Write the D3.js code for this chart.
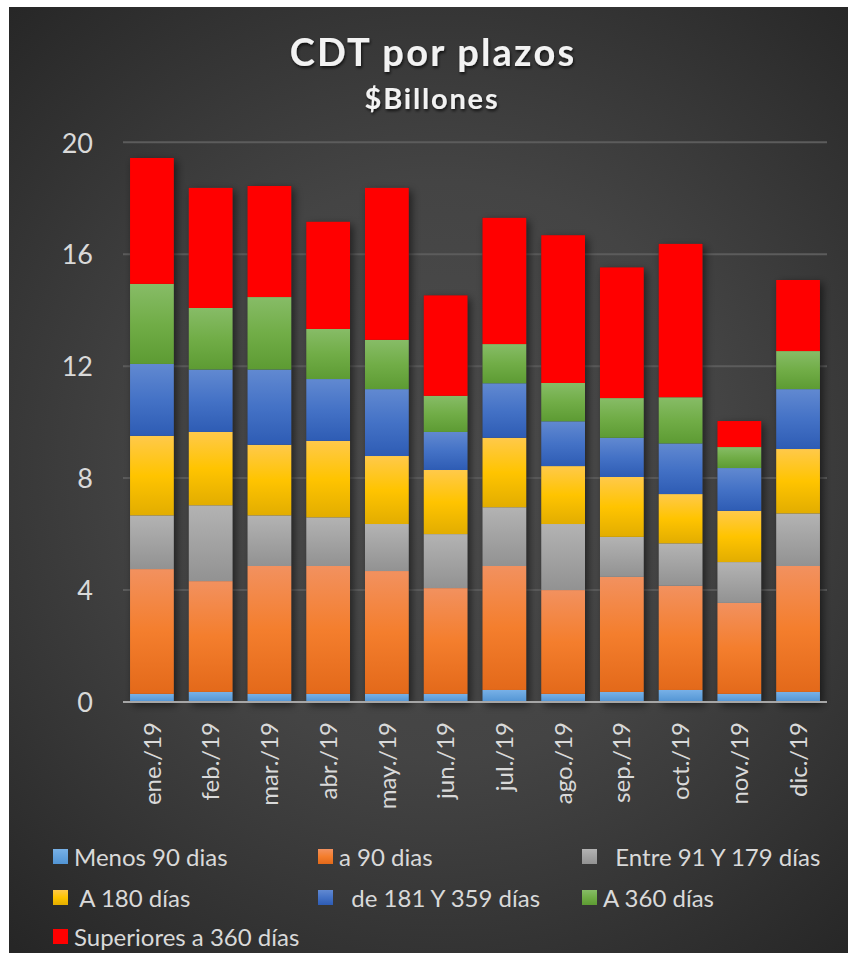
<!DOCTYPE html>
<html>
<head>
<meta charset="utf-8">
<script src="https://cdn.jsdelivr.net/npm/d3@7"></script>
<style>
  html, body { margin: 0; padding: 0; background: #ffffff; }
  svg { display: block; }
  text { white-space: pre; }
</style>
</head>
<body>
<div id="chart"></div>
<script>
// ---------- DATA ----------
const months = ["ene./19","feb./19","mar./19","abr./19","may./19","jun./19","jul./19","ago./19","sep./19","oct./19","nov./19","dic./19"];
const seriesNames = ["Menos 90 dias","a 90 dias","  Entre 91 Y 179 días"," A 180 días","  de 181 Y 359 días","A 360 días","Superiores a 360 días"];
const menos90    = [0.29,0.36,0.29,0.29,0.29,0.29,0.43,0.29,0.36,0.43,0.29,0.36];
const a90        = [4.46,3.96,4.57,4.57,4.39,3.78,4.43,3.71,4.11,3.72,3.25,4.50];
const entre91    = [1.92,2.71,1.81,1.74,1.68,1.93,2.10,2.36,1.43,1.52,1.46,1.88];
const a180       = [2.84,2.62,2.52,2.73,2.43,2.29,2.48,2.07,2.14,1.76,1.83,2.30];
const de181      = [2.57,2.23,2.69,2.21,2.39,1.36,1.95,1.60,1.40,1.81,1.53,2.14];
const a360       = [2.86,2.20,2.59,1.79,1.76,1.29,1.40,1.37,1.42,1.65,0.75,1.36];
const sup360     = [4.50,4.29,3.97,3.83,5.43,3.59,4.51,5.28,4.67,5.48,0.93,2.54];
const yTicks     = [0,4,8,12,16,20];

const seriesValues = [menos90, a90, entre91, a180, de181, a360, sup360];
const gradStops = [
  [["0%","#78b1e7"],["100%","#5194d4"]],
  [["0%","#f2915f"],["50%","#f47e2d"],["100%","#e3691a"]],
  [["0%","#b3b3b3"],["100%","#929292"]],
  [["0%","#ffc94a"],["50%","#ffc400"],["100%","#e2ad00"]],
  [["0%","#6189d1"],["50%","#4472c6"],["100%","#2e5cb4"]],
  [["0%","#87bc67"],["50%","#71ad47"],["100%","#5d9b33"]],
  [["0%","#ff0000"],["100%","#ff0000"]]
];

// ---------- LAYOUT ----------
const W = 848, H = 953;
const svg = d3.select("#chart").append("svg").attr("width", W).attr("height", H);
const defs = svg.append("defs");

const bg = defs.append("radialGradient").attr("id","bg")
  .attr("gradientUnits","userSpaceOnUse")
  .attr("cx", 440).attr("cy", 470).attr("r", 640);
bg.append("stop").attr("offset","0%").attr("stop-color","#4d4d4d");
bg.append("stop").attr("offset","45%").attr("stop-color","#444444");
bg.append("stop").attr("offset","100%").attr("stop-color","#262626");

gradStops.forEach((stops, i) => {
  const g = defs.append("linearGradient").attr("id","g"+i)
    .attr("x1",0).attr("y1",0).attr("x2",0).attr("y2",1);
  stops.forEach(s => g.append("stop").attr("offset", s[0]).attr("stop-color", s[1]));
});

const shadow = defs.append("filter").attr("id","shadow")
  .attr("x","-30%").attr("y","-10%").attr("width","160%").attr("height","120%");
shadow.append("feDropShadow").attr("dx",3).attr("dy",3).attr("stdDeviation",4)
  .attr("flood-color","#000").attr("flood-opacity",0.55);

const tshadow = defs.append("filter").attr("id","tshadow")
  .attr("x","-10%").attr("y","-30%").attr("width","120%").attr("height","160%");
tshadow.append("feDropShadow").attr("dx",1).attr("dy",2).attr("stdDeviation",1.5)
  .attr("flood-color","#000").attr("flood-opacity",0.7);

svg.append("rect").attr("x",9).attr("y",7).attr("width",W-9).attr("height",H-7)
  .attr("fill","url(#bg)");

// ---------- SCALES ----------
const x = d3.scaleBand().domain(months).range([123, 827]).paddingInner(0.255).paddingOuter(0.12);
const y = d3.scaleLinear().domain([0, 20]).range([702, 142.3]);

// gridlines
svg.append("g").selectAll("line").data(yTicks.filter(t => t > 0)).join("line")
  .attr("x1", 123).attr("x2", 827)
  .attr("y1", d => y(d)).attr("y2", d => y(d))
  .attr("stroke", "#5c5c5c").attr("stroke-width", 2);

// y axis labels
const yAxis = d3.axisLeft(y).tickValues(yTicks).tickSize(0).tickPadding(0).tickFormat(d3.format("d"));
const yg = svg.append("g").attr("transform","translate(93,0)").call(yAxis);
yg.select(".domain").remove();
yg.selectAll("text").attr("fill","#d9d9d9").attr("font-family","Lato, 'Open Sans', sans-serif")
  .attr("font-size", 27).attr("dy","0.36em");

// ---------- STACK ----------
const table = months.map((m, i) => {
  const o = { month: m };
  seriesNames.forEach((s, k) => { o["s"+k] = seriesValues[k][i]; });
  return o;
});
const keys = seriesNames.map((s, k) => "s"+k);
const stacked = d3.stack().keys(keys)(table);

const barsG = svg.append("g");
// shadow layer: one whole bar per month
barsG.append("g").attr("filter","url(#shadow)").selectAll("rect")
  .data(table).join("rect")
  .attr("x", d => x(d.month)).attr("width", x.bandwidth())
  .attr("y", d => y(d3.sum(keys, k => d[k])))
  .attr("height", d => y(0) - y(d3.sum(keys, k => d[k])))
  .attr("fill", "#333");

stacked.forEach((layer, k) => {
  barsG.append("g").selectAll("rect").data(layer).join("rect")
    .attr("x", d => x(d.data.month))
    .attr("width", x.bandwidth())
    .attr("y", d => y(d[1]))
    .attr("height", d => y(d[0]) - y(d[1]))
    .attr("fill", "url(#g"+k+")");
});

// baseline
svg.append("line").attr("x1",123).attr("x2",827).attr("y1",y(0)).attr("y2",y(0))
  .attr("stroke","#a6a6a6").attr("stroke-width",2);

// x axis labels
const xAxis = d3.axisBottom(x).tickSize(0).tickPadding(0);
const xg = svg.append("g").attr("transform", "translate(0,"+y(0)+")").call(xAxis);
xg.select(".domain").remove();
xg.selectAll("text")
  .attr("fill","#d9d9d9").attr("font-family","Lato, 'Open Sans', sans-serif").attr("font-size", 24)
  .attr("text-anchor","end")
  .attr("transform","rotate(-90)")
  .attr("x", -20).attr("y", 0).attr("dy","0.36em");

// ---------- TITLE ----------
svg.append("text").attr("x", 433).attr("y", 66).attr("text-anchor","middle")
  .attr("font-family","Lato, 'Open Sans', sans-serif").attr("font-weight","bold")
  .attr("font-size", 38).attr("letter-spacing", 2.2).attr("fill","#f2f2f2")
  .attr("filter","url(#tshadow)").text("CDT por plazos");
svg.append("text").attr("x", 432).attr("y", 109).attr("text-anchor","middle")
  .attr("font-family","Lato, 'Open Sans', sans-serif").attr("font-weight","bold")
  .attr("font-size", 29).attr("letter-spacing", 1.8).attr("fill","#f2f2f2")
  .attr("filter","url(#tshadow)").text("$Billones");

// ---------- LEGEND ----------
const legendPos = [
  [53, 857], [318, 857], [582, 857],
  [53, 898], [318, 898], [582, 898],
  [53, 937]
];
const lg = svg.append("g");
seriesNames.forEach((name, k) => {
  const [lx, ly] = legendPos[k];
  lg.append("rect").attr("x", lx).attr("y", ly - 8).attr("width", 15).attr("height", 15)
    .attr("fill", "url(#g"+k+")");
  lg.append("text").attr("x", lx + 21).attr("y", ly).attr("dy","0.36em")
    .attr("font-family","Lato, 'Open Sans', sans-serif").attr("font-size", 24)
    .attr("fill","#d9d9d9").text(name);
});
</script>
</body>
</html>
